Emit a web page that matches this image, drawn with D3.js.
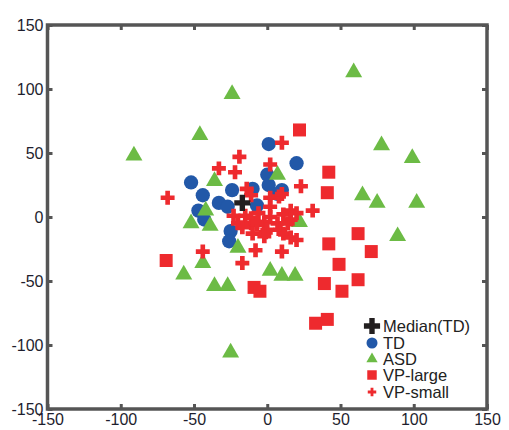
<!DOCTYPE html>
<html>
<head>
<meta charset="utf-8">
<script src="https://cdn.jsdelivr.net/npm/d3@7"></script>
<style>
  body { margin: 0; background: #fff; }
  svg { display: block; font-family: "Liberation Sans", Arial, sans-serif; }
</style>
</head>
<body>
<div id="chart"></div>
<script>
// valores
const tickValues = [-150, -100, -50, 0, 50, 100, 150];

const medianTD = [[-17, 11]];

const td = [
  [-52, 27], [-44, 17], [-33, 11], [-24, 21], [-47, 5], [-43, -2], [1, 57], [20, 42],
  [0, 33], [1, 25], [10, 21], [7, 18], [-10, 22], [-27, 8], [-7, 9], [-25, -11], [-26, -19]
];

const asd = [
  [-24, 96], [-46, 64], [-91, 48], [-36, 28], [59, 113], [78, 56], [99, 46], [65, 17],
  [75, 11], [102, 11], [7, 33], [-42, 5], [-52, -5], [-39, -7], [-20, -24], [-44, -36],
  [-57, -45], [-36, -54], [-27, -54], [-25, -106], [2, -42], [10, -46], [19, -46], [22, -4], [89, -15]
];

const vpLarge = [
  [22, 68], [42, 35], [41, 19], [-69, -34], [-9, -55], [-5, -58], [62, -13], [42, -21],
  [71, -27], [49, -37], [62, -49], [39, -52], [51, -58], [33, -83], [41, -80]
];

const vpSmall = [
  [-68, 15], [-33, 38], [-19, 47], [-22, 35], [10, 58], [2, 41], [23, 24], [2, 15], [8, 16],
  [-14, 22], [-11, 17], [10, 18], [31, 5], [16, 5], [20, 3], [2, 8], [-6, 3], [-23, 1], [-15, 1],
  [2, 0], [11, 2], [-20, -5], [-11, -5], [-2, -4], [7, -5], [16, -2], [-17, -8], [-11, -1],
  [-7, -6], [-1, -12], [-10, -13], [0, -10], [9, -10], [11, -13], [16, -16], [20, -18], [-2, -15],
  [-44, -27], [-8, -26], [10, -27], [-17, -36], [-7, -4], [14, -5]
];

const W = 509, H = 430;
const svg = d3.select("#chart").append("svg")
    .attr("width", W)
    .attr("height", H);

//Escalas
const x = d3.scaleLinear().domain([-150, 150]).range([47.5, 487]);
const y = d3.scaleLinear().domain([-150, 150]).range([409, 25]);

const frameColor = "#555";

//Ejes (ticks hacia adentro)
function styleAxis(g){
    g.select(".domain").remove();
    g.selectAll(".tick line").attr("stroke", frameColor).attr("stroke-width", 3);
    g.selectAll(".tick text").attr("fill", "#1e1e2e").style("font-size", "16px");
}

svg.append("g")
    .attr("transform", `translate(0, ${y(-150)})`)
    .call(d3.axisBottom(x).tickValues(tickValues).tickSizeInner(-5).tickSizeOuter(0)
        .tickPadding(5).tickFormat(d => String(d)))
    .call(styleAxis);

svg.append("g")
    .attr("transform", `translate(${x(-150)}, 0)`)
    .call(d3.axisLeft(y).tickValues(tickValues).tickSizeInner(-5).tickSizeOuter(0)
        .tickPadding(4).tickFormat(d => String(d)))
    .call(styleAxis);

svg.append("g")
    .attr("transform", `translate(0, ${y(150)})`)
    .call(d3.axisTop(x).tickValues(tickValues).tickSizeInner(-5).tickSizeOuter(0).tickFormat(""))
    .call(styleAxis);

svg.append("g")
    .attr("transform", `translate(${x(150)}, 0)`)
    .call(d3.axisRight(y).tickValues(tickValues).tickSizeInner(-5).tickSizeOuter(0).tickFormat(""))
    .call(styleAxis);

svg.append("rect")
    .attr("x", x(-150))
    .attr("y", y(150))
    .attr("width", x(150) - x(-150))
    .attr("height", y(-150) - y(150))
    .attr("fill", "none")
    .attr("stroke", frameColor)
    .attr("stroke-width", 3.5);

//Series
const series = [
    {name: "TD", data: td, type: d3.symbolCircle, size: 160, color: "#2258a8", lsize: 95},
    {name: "ASD", data: asd, type: d3.symbolTriangle, size: 125, color: "#6cbb45", lsize: 55},
    {name: "VP-large", data: vpLarge, type: d3.symbolSquare, size: 169, color: "#ee2a2e", lsize: 90},
    {name: "VP-small", data: vpSmall, type: d3.symbolCross, size: 108, color: "#ee2a2e", lsize: 40},
    {name: "Median(TD)", data: medianTD, type: d3.symbolCross, size: 145, color: "#231f20", lsize: 145}
];

series.forEach(s => {
    svg.append("g").selectAll("path")
        .data(s.data)
        .enter()
        .append("path")
        .attr("transform", d => `translate(${x(d[0])}, ${y(d[1])})`)
        .attr("d", d3.symbol().type(s.type).size(s.size))
        .attr("fill", s.color);
});

//Leyenda
const legendOrder = ["Median(TD)", "TD", "ASD", "VP-large", "VP-small"];
const legendY = [326, 343, 359, 375, 392];
const legend = svg.append("g");
legendOrder.forEach((name, i) => {
    const s = series.find(d => d.name === name);
    legend.append("path")
        .attr("transform", `translate(372, ${legendY[i]})`)
        .attr("d", d3.symbol().type(s.type).size(s.lsize))
        .attr("fill", s.color);
    legend.append("text")
        .attr("x", 383)
        .attr("y", legendY[i])
        .attr("dy", "0.36em")
        .attr("fill", "#222")
        .style("font-size", "16.5px")
        .text(name);
});
</script>
</body>
</html>
